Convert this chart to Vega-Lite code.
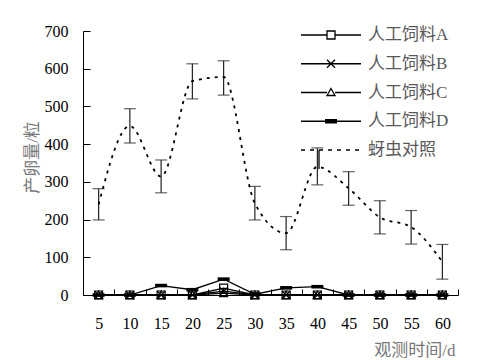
{
  "$schema": "https://vega.github.io/schema/vega-lite/v6.json",
  "width": 375,
  "height": 264,
  "autosize": {"type": "none"},
  "padding": {"left": 83, "top": 31, "right": 25, "bottom": 65},
  "background": "white",
  "config": {
    "view": {"stroke": null},
    "font": "Liberation Serif",
    "axisY": {
      "labelOverlap": false,
      "labelSeparation": 0,
      "grid": false,
      "domainColor": "#000",
      "tickColor": "#000",
      "tickSize": -7,
      "labelFont": "Liberation Serif",
      "labelFontSize": 16,
      "labelColor": "#000",
      "labelPadding": 22,
      "titleFont": "Liberation Serif, Noto Sans CJK SC",
      "titleFontSize": 17,
      "titleFontWeight": "normal",
      "titleColor": "#777",
      "titleX": -51,
      "titleY": 126,
      "titleAngle": -90,
      "titleAlign": "center",
      "titleBaseline": "middle"
    }
  },
  "data": {
    "values": [
      {"d": 5, "s": "人工饲料A", "v": 0}, {"d": 10, "s": "人工饲料A", "v": 0}, {"d": 15, "s": "人工饲料A", "v": 0}, {"d": 20, "s": "人工饲料A", "v": 0}, {"d": 25, "s": "人工饲料A", "v": 18}, {"d": 30, "s": "人工饲料A", "v": 0}, {"d": 35, "s": "人工饲料A", "v": 0}, {"d": 40, "s": "人工饲料A", "v": 0}, {"d": 45, "s": "人工饲料A", "v": 0}, {"d": 50, "s": "人工饲料A", "v": 0}, {"d": 55, "s": "人工饲料A", "v": 0}, {"d": 60, "s": "人工饲料A", "v": 0},
      {"d": 5, "s": "人工饲料B", "v": 0}, {"d": 10, "s": "人工饲料B", "v": 0}, {"d": 15, "s": "人工饲料B", "v": 0}, {"d": 20, "s": "人工饲料B", "v": 0}, {"d": 25, "s": "人工饲料B", "v": 10}, {"d": 30, "s": "人工饲料B", "v": 0}, {"d": 35, "s": "人工饲料B", "v": 0}, {"d": 40, "s": "人工饲料B", "v": 0}, {"d": 45, "s": "人工饲料B", "v": 0}, {"d": 50, "s": "人工饲料B", "v": 0}, {"d": 55, "s": "人工饲料B", "v": 0}, {"d": 60, "s": "人工饲料B", "v": 0},
      {"d": 5, "s": "人工饲料C", "v": 0}, {"d": 10, "s": "人工饲料C", "v": 0}, {"d": 15, "s": "人工饲料C", "v": 0}, {"d": 20, "s": "人工饲料C", "v": 0}, {"d": 25, "s": "人工饲料C", "v": 5}, {"d": 30, "s": "人工饲料C", "v": 0}, {"d": 35, "s": "人工饲料C", "v": 0}, {"d": 40, "s": "人工饲料C", "v": 0}, {"d": 45, "s": "人工饲料C", "v": 0}, {"d": 50, "s": "人工饲料C", "v": 0}, {"d": 55, "s": "人工饲料C", "v": 0}, {"d": 60, "s": "人工饲料C", "v": 0},
      {"d": 5, "s": "人工饲料D", "v": 0}, {"d": 10, "s": "人工饲料D", "v": 0}, {"d": 15, "s": "人工饲料D", "v": 25}, {"d": 20, "s": "人工饲料D", "v": 14}, {"d": 25, "s": "人工饲料D", "v": 42}, {"d": 30, "s": "人工饲料D", "v": 2}, {"d": 35, "s": "人工饲料D", "v": 19}, {"d": 40, "s": "人工饲料D", "v": 22}, {"d": 45, "s": "人工饲料D", "v": 0}, {"d": 50, "s": "人工饲料D", "v": 0}, {"d": 55, "s": "人工饲料D", "v": 0}, {"d": 60, "s": "人工饲料D", "v": 0},
      {"d": 5, "s": "蚜虫对照", "v": 240, "lo": 199, "hi": 282},
      {"d": 10, "s": "蚜虫对照", "v": 448, "lo": 403, "hi": 494},
      {"d": 15, "s": "蚜虫对照", "v": 314, "lo": 271, "hi": 358},
      {"d": 20, "s": "蚜虫对照", "v": 567, "lo": 520, "hi": 613},
      {"d": 25, "s": "蚜虫对照", "v": 578, "lo": 530, "hi": 621},
      {"d": 30, "s": "蚜虫对照", "v": 243, "lo": 199, "hi": 288},
      {"d": 35, "s": "蚜虫对照", "v": 164, "lo": 120, "hi": 208},
      {"d": 40, "s": "蚜虫对照", "v": 340, "lo": 292, "hi": 390},
      {"d": 45, "s": "蚜虫对照", "v": 283, "lo": 238, "hi": 327},
      {"d": 50, "s": "蚜虫对照", "v": 206, "lo": 162, "hi": 250},
      {"d": 55, "s": "蚜虫对照", "v": 180, "lo": 135, "hi": 224},
      {"d": 60, "s": "蚜虫对照", "v": 88, "lo": 42, "hi": 134}
    ]
  },
  "encoding": {
    "x": {
      "field": "d",
      "type": "ordinal",
      "scale": {"type": "band", "paddingInner": 0, "paddingOuter": 0},
      "axis": {
        "title": "观测时间/d",
        "labelAngle": 0,
        "labelOverlap": false,
        "tickBand": "extent",
        "tickSize": -6,
        "tickColor": "#000",
        "domainColor": "#000",
        "labelFont": "Liberation Serif",
        "labelFontSize": 16,
        "labelColor": "#000",
        "labelPadding": 26,
        "titleFont": "Liberation Serif, Noto Sans CJK SC",
        "titleFontSize": 17,
        "titleFontWeight": "normal",
        "titleColor": "#777",
        "titleX": 372,
        "titleY": 55,
        "titleAlign": "right",
        "titleBaseline": "middle"
      }
    }
  },
  "layer": [
    {
      "transform": [{"filter": "datum.s === '蚜虫对照'"}],
      "mark": {"type": "rule", "color": "#222", "strokeWidth": 1.2},
      "encoding": {
        "y": {
          "field": "lo",
          "type": "quantitative",
          "scale": {"domain": [0, 700], "nice": false},
          "axis": {"title": "产卵量/粒", "values": [0, 100, 200, 300, 400, 500, 600, 700], "labelOverlap": false}
        },
        "y2": {"field": "hi"}
      }
    },
    {
      "transform": [{"filter": "datum.s === '蚜虫对照'"}],
      "mark": {"type": "tick", "color": "#222", "size": 12, "thickness": 1.2, "orient": "horizontal"},
      "encoding": {"y": {"field": "lo", "type": "quantitative", "axis": {"title": "产卵量/粒", "values": [0, 100, 200, 300, 400, 500, 600, 700], "labelOverlap": false}}}
    },
    {
      "transform": [{"filter": "datum.s === '蚜虫对照'"}],
      "mark": {"type": "tick", "color": "#222", "size": 12, "thickness": 1.2, "orient": "horizontal"},
      "encoding": {"y": {"field": "hi", "type": "quantitative", "axis": {"title": "产卵量/粒", "values": [0, 100, 200, 300, 400, 500, 600, 700], "labelOverlap": false}}}
    },
    {
      "transform": [{"filter": "datum.s === '蚜虫对照'"}],
      "mark": {"type": "line", "color": "#000", "strokeDash": [3, 5], "strokeWidth": 1.8, "interpolate": "monotone"},
      "encoding": {"y": {"field": "v", "type": "quantitative", "axis": {"title": "产卵量/粒", "values": [0, 100, 200, 300, 400, 500, 600, 700], "labelOverlap": false}}}
    },
    {
      "transform": [{"filter": "datum.s !== '蚜虫对照'"}],
      "mark": {"type": "line", "color": "#000", "strokeWidth": 1.3},
      "encoding": {"y": {"field": "v", "type": "quantitative", "axis": {"title": "产卵量/粒", "values": [0, 100, 200, 300, 400, 500, 600, 700], "labelOverlap": false}}, "detail": {"field": "s"}}
    },
    {
      "transform": [{"filter": "datum.s === '人工饲料A' || datum.s === '人工饲料B' || datum.s === '人工饲料C'"}],
      "mark": {"type": "point", "filled": false, "color": "#000", "strokeWidth": 1.2, "size": 64, "opacity": 1},
      "encoding": {
        "y": {"field": "v", "type": "quantitative", "axis": {"title": "产卵量/粒", "values": [0, 100, 200, 300, 400, 500, 600, 700], "labelOverlap": false}},
        "shape": {
          "field": "s",
          "type": "nominal",
          "scale": {
            "domain": ["人工饲料A", "人工饲料B", "人工饲料C"],
            "range": ["M-1,-1H1V1H-1Z", "M-1,-1L1,1M1,-1L-1,1", "M0,-1L1,0.9H-1Z"]
          },
          "legend": null
        }
      }
    },
    {
      "transform": [{"filter": "datum.s === '人工饲料D'"}],
      "mark": {"type": "point", "filled": true, "color": "#000", "size": 64, "opacity": 1, "shape": "M-1.5,-0.45H1.5V0.45H-1.5Z"},
      "encoding": {"y": {"field": "v", "type": "quantitative", "axis": {"title": "产卵量/粒", "values": [0, 100, 200, 300, 400, 500, 600, 700], "labelOverlap": false}}}
    },
    {
      "mark": {"type": "point", "opacity": 0, "filled": false, "color": "#000"},
      "encoding": {
        "y": {"field": "v", "type": "quantitative", "axis": {"title": "产卵量/粒", "values": [0, 100, 200, 300, 400, 500, 600, 700], "labelOverlap": false}},
        "shape": {
          "field": "s",
          "type": "nominal",
          "scale": {
            "domain": ["人工饲料A", "人工饲料B", "人工饲料C", "人工饲料D", "蚜虫对照"],
            "range": [
              "M-3,0H-0.4M0.4,0H3M-0.4,-0.4H0.4V0.4H-0.4Z",
              "M-3,0H3M-0.4,-0.4L0.4,0.4M0.4,-0.4L-0.4,0.4",
              "M-3,0H-0.4M0.4,0H3M0,-0.4L0.4,0.3H-0.4Z",
              "M-3,0H3M-0.6,-0.15H0.6M-0.6,0.15H0.6",
              "M-3,0H-2.6M-2.1,0H-1.7M-1.2,0H-0.8M-0.3,0H0.1M0.6,0H1M1.5,0H1.9M2.4,0H2.8M-1.2,0V1.9"
            ]
          },
          "legend": {
            "title": null,
            "orient": "none",
            "legendX": 237,
            "legendY": -7,
            "padding": 0,
            "symbolSize": 400,
            "symbolStrokeWidth": 1.3,
            "symbolStrokeColor": "#000",
            "symbolFillColor": "transparent",
            "symbolOpacity": 1,
            "labelFont": "Liberation Serif, Noto Sans CJK SC",
            "labelFontSize": 17,
            "labelColor": "#595959",
            "labelOffset": 26,
            "rowPadding": 9.75,
            "encode": {"symbols": {"update": {"opacity": {"value": 1}}}}
          }
        }
      }
    }
  ],
  "resolve": {"scale": {"shape": "independent"}}
}
